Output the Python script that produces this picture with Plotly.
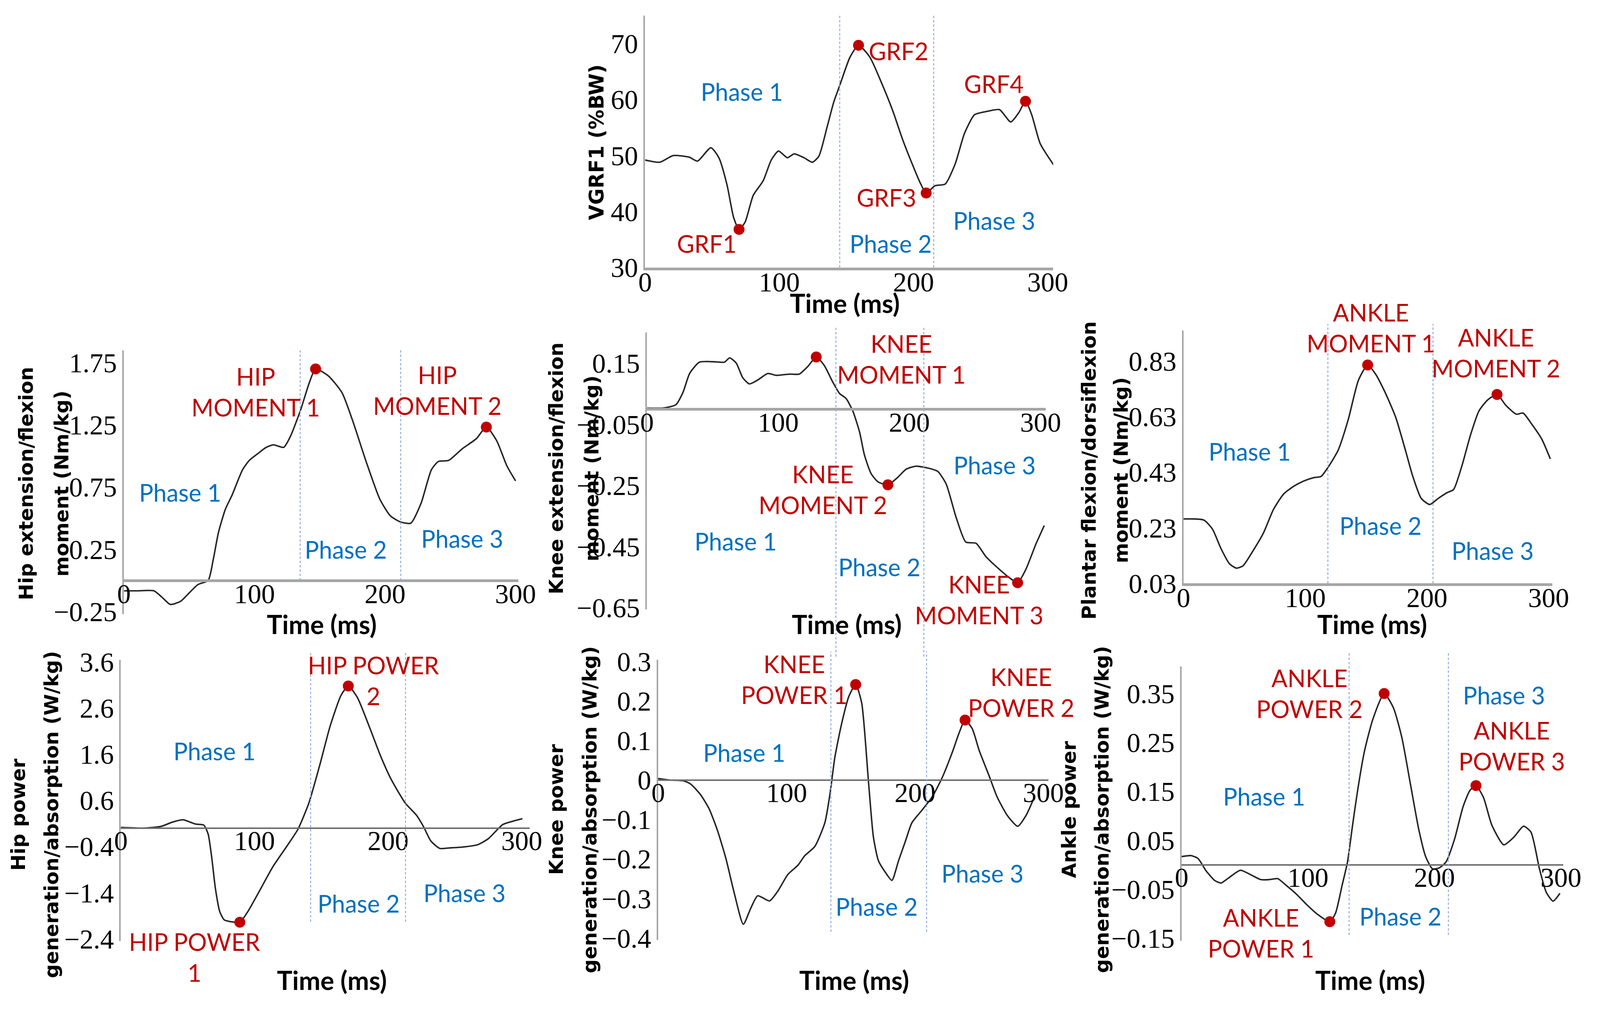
import plotly.graph_objects as go

W, H = 4124, 2593

# ---------------- data ----------------
time_ticks = [0, 100, 200, 300]

vgrf_t = [0, 11, 21, 33, 39, 49, 55, 61, 66, 70, 74.5, 80.6, 88, 94, 99.4, 106, 111, 118.5, 124.6, 129.5, 135.6, 140.5, 145.4, 152.7, 159, 167.4, 177, 184.5, 191.8, 199, 205, 209.4, 216, 223.5, 231, 238, 245.5, 255, 264, 272.4, 278.5, 283.4, 288, 294.4, 305]
vgrf_v = [49.2, 48.8, 50.0, 49.7, 49.0, 51.4, 49.6, 44.8, 38.9, 36.8, 38.1, 42.9, 45.5, 49.2, 50.8, 49.6, 50.3, 49.6, 48.8, 49.9, 55.1, 59.5, 62.8, 67.6, 69.7, 67.6, 62.5, 58.0, 52.9, 48.5, 45.1, 43.3, 44.6, 44.9, 48.5, 54.0, 57.3, 57.9, 58.2, 56.0, 57.7, 59.7, 57.3, 52.1, 48.1]
vgrf_peak_t = [70, 159, 209.4, 283.4]
vgrf_peak_v = [36.8, 69.7, 43.3, 59.7]
vgrf_peak_names = ["GRF1", "GRF2", "GRF3", "GRF4"]
vgrf_phases = [145, 215]
vgrf_yticks = [30, 40, 50, 60, 70]

hipm_t = [0, 9, 23, 29, 35.5, 43.4, 50, 56.6, 64.5, 68.4, 72.4, 77.6, 82.9, 90.8, 96, 102.6, 109, 114.5, 122.4, 127.6, 135.5, 142, 146.8, 156.6, 167, 175, 185.5, 196, 204, 211.8, 219.7, 227.6, 235.5, 240.8, 248.7, 259, 270, 277.6, 285.5, 293.4, 300]
hipm_v = [-0.084, -0.084, -0.084, -0.134, -0.193, -0.168, -0.10, -0.034, 0.0, 0.168, 0.386, 0.57, 0.688, 0.889, 0.965, 1.02, 1.07, 1.09, 1.07, 1.16, 1.376, 1.59, 1.70, 1.644, 1.51, 1.29, 0.956, 0.654, 0.52, 0.47, 0.46, 0.62, 0.889, 0.956, 0.965, 1.057, 1.14, 1.233, 1.124, 0.92, 0.80]
hipm_peak_t = [146.8, 277.6]
hipm_peak_v = [1.70, 1.233]
hipm_peak_names = ["HIP<br>MOMENT 1", "HIP<br>MOMENT 2"]
hipm_phases = [135, 212]
hipm_yticks = [-0.25, 0.25, 0.75, 1.25, 1.75]

kneem_t = [0, 12, 22, 27.4, 32.5, 40, 52.8, 59, 63, 68, 73, 78, 84.5, 92, 98.5, 108.6, 116, 122.6, 129, 135, 141.6, 146.7, 151.8, 156.9, 162, 165.7, 170.8, 176, 183.6, 191, 197.5, 205, 215, 221.6, 228, 235.6, 243, 250.8, 258.4, 268.5, 276, 282.5, 288.8, 296.4, 302.8]
kneem_v = [0.003, 0.003, 0.014, 0.054, 0.116, 0.153, 0.154, 0.153, 0.167, 0.15, 0.102, 0.082, 0.095, 0.116, 0.110, 0.114, 0.114, 0.139, 0.170, 0.143, 0.088, 0.051, 0.034, -0.007, -0.075, -0.150, -0.211, -0.238, -0.248, -0.224, -0.197, -0.187, -0.194, -0.204, -0.245, -0.354, -0.435, -0.439, -0.483, -0.524, -0.551, -0.568, -0.524, -0.442, -0.381]
kneem_peak_t = [129, 183.6, 282.5]
kneem_peak_v = [0.170, -0.248, -0.568]
kneem_peak_names = ["KNEE<br>MOMENT 1", "KNEE<br>MOMENT 2", "KNEE<br>MOMENT 3"]
kneem_phases = [144, 211]
kneem_yticks = [0.15, -0.05, -0.25, -0.45, -0.65]

anklem_t = [0, 16.7, 23.7, 30.7, 37.7, 43.3, 48.8, 57.2, 65.6, 74, 82.3, 90.7, 99, 107.4, 113, 118.6, 127, 135.3, 143.7, 151.3, 157.7, 166, 174.4, 182.8, 188.4, 195.3, 202.3, 209.3, 216.3, 221.9, 228.8, 235.8, 242.8, 249.8, 257.6, 265, 273.5, 279, 286, 294.4, 301.4]
anklem_v = [0.262, 0.258, 0.226, 0.156, 0.101, 0.085, 0.093, 0.148, 0.211, 0.297, 0.352, 0.38, 0.399, 0.411, 0.415, 0.447, 0.509, 0.619, 0.761, 0.816, 0.784, 0.714, 0.627, 0.502, 0.415, 0.336, 0.314, 0.336, 0.356, 0.368, 0.454, 0.564, 0.651, 0.69, 0.71, 0.67, 0.639, 0.643, 0.604, 0.549, 0.478]
anklem_peak_t = [151.3, 257.6]
anklem_peak_v = [0.816, 0.71]
anklem_peak_names = ["ANKLE<br>MOMENT 1", "ANKLE<br>MOMENT 2"]
anklem_phases = [118.6, 205]
anklem_yticks = [0.03, 0.23, 0.43, 0.63, 0.83]

hipp_t = [0, 17, 30, 38.4, 46.5, 52, 56, 62, 65.3, 68, 70.7, 74, 77.4, 82.8, 89, 95, 103, 113.7, 124.5, 132.5, 140.6, 148.7, 156.7, 164.8, 170.2, 177, 186.3, 194.4, 202.4, 213, 221.2, 226.6, 232, 238.7, 245.4, 256, 267, 275, 285.8, 293.8, 300.5]
hipp_v = [0.015, 0.0, 0.036, 0.128, 0.18, 0.128, 0.087, 0.066, -0.128, -0.64, -1.30, -1.81, -1.99, -2.03, -2.04, -1.81, -1.40, -0.84, -0.38, -0.026, 0.536, 1.35, 2.22, 2.88, 3.08, 2.83, 2.17, 1.56, 1.05, 0.536, 0.28, 0.026, -0.28, -0.44, -0.43, -0.41, -0.36, -0.23, 0.077, 0.153, 0.204]
hipp_peak_t = [89, 170.2]
hipp_peak_v = [-2.04, 3.08]
hipp_peak_names = ["HIP POWER<br>1", "HIP POWER<br>2"]
hipp_phases = [142, 213]
hipp_yticks = [3.6, 2.6, 1.6, 0.6, -0.4, -1.4, -2.4]

kneep_t = [0, 9.7, 20, 25.3, 33, 39.7, 46, 52.7, 59.3, 66.3, 72.3, 77.5, 86.7, 93.2, 101, 109, 114, 122, 129.8, 133.7, 137.6, 142.8, 148.6, 153.8, 158.5, 163.7, 167.6, 171.5, 176.8, 182, 187.2, 192.4, 197.6, 205.5, 213.3, 221, 229, 234.2, 239, 244.6, 249.9, 257.7, 264, 272, 280, 286.4, 293]
kneep_v = [0.004, 0.0, -0.002, -0.01, -0.037, -0.073, -0.126, -0.198, -0.287, -0.365, -0.323, -0.293, -0.306, -0.281, -0.239, -0.215, -0.192, -0.168, -0.108, -0.037, 0.058, 0.142, 0.213, 0.242, 0.195, -0.001, -0.144, -0.204, -0.233, -0.254, -0.204, -0.156, -0.108, -0.076, -0.043, 0.005, 0.07, 0.118, 0.152, 0.13, 0.076, 0.011, -0.043, -0.09, -0.117, -0.09, -0.043]
kneep_peak_t = [153.8, 239]
kneep_peak_v = [0.242, 0.152]
kneep_peak_names = ["KNEE<br>POWER 1", "KNEE<br>POWER 2"]
kneep_phases = [134.5, 209]
kneep_yticks = [0.3, 0.2, 0.1, 0, -0.1, -0.2, -0.3, -0.4]

anklep_t = [0, 7.5, 13, 19.6, 26.3, 31.2, 37, 46.5, 54.6, 62.6, 69.4, 76, 82.8, 90.9, 98.9, 107, 117.2, 121.8, 127, 131.2, 135.2, 139.2, 144.6, 151.3, 160.2, 167.5, 174.2, 180.9, 187.6, 193, 198.4, 203.8, 209.1, 215.9, 222.6, 228, 232.8, 238.7, 245.4, 254.8, 262.9, 270.4, 276.3, 283, 288.4, 293.8, 299.2]
anklep_v = [0.017, 0.019, 0.013, -0.013, -0.032, -0.037, -0.027, -0.011, -0.02, -0.03, -0.03, -0.028, -0.042, -0.06, -0.081, -0.10, -0.116, -0.098, -0.041, 0.006, 0.081, 0.152, 0.232, 0.298, 0.35, 0.321, 0.26, 0.166, 0.072, 0.017, -0.008, -0.006, 0.006, 0.053, 0.119, 0.152, 0.162, 0.138, 0.081, 0.041, 0.057, 0.079, 0.067, -0.008, -0.056, -0.074, -0.058]
anklep_peak_t = [117.2, 160.2, 232.8]
anklep_peak_v = [-0.116, 0.35, 0.162]
anklep_peak_names = ["ANKLE<br>POWER 1", "ANKLE<br>POWER 2", "ANKLE<br>POWER 3"]
anklep_phases = [132.5, 211]
anklep_yticks = [0.35, 0.25, 0.15, 0.05, -0.05, -0.15]

phase_names = ["Phase 1", "Phase 2", "Phase 3"]

# ---------------- layout / styling config ----------------
RED = "#C00000"
BLUE = "#0070C0"
PHASE_LINE = "#8FAADC"
AXIS_LIGHT = "#A6A6A6"
AXIS_DARK = "#707070"


# measured pixel positions -> page pixels (small calibration of the photographed page)
def X(p):
    return 1.003 * p - 25


def Y(p):
    return 1.0194 * p - 42.4


panels = [
    dict(t=vgrf_t, v=vgrf_v, pt=vgrf_peak_t, pv=vgrf_peak_v, names=vgrf_peak_names, phases=vgrf_phases,
         yticks=vgrf_yticks, px=(1671, 2729), py=(40, 692), xr=[0, 304], yr=[30, 75], zero_axis=False,
         xline=(AXIS_LIGHT, 7), phase_span=(40, 692),
         name_pos=[(46, 34.3), (189, 68.7), (180, 42.5), (260, 62.8)],
         phase_pos=[(72, 61.4), (183, 34.3), (260, 38.4)],
         ytitle=["VGRF1 (%BW)"], ytitle_x=[1546], ytitle_y=368, ytitle_size=51, xtitle=(2189, 784)),
    dict(t=hipm_t, v=hipm_v, pt=hipm_peak_t, pv=hipm_peak_v, names=hipm_peak_names, phases=hipm_phases,
         yticks=hipm_yticks, px=(320, 1342), py=(906, 1587), xr=[0, 302], yr=[-0.27, 1.85], zero_axis=True,
         xline=(AXIS_LIGHT, 7), phase_span=(906, 1500),
         name_pos=[(100.8, 1.517), (240, 1.53)],
         phase_pos=[(43, 0.708), (170, 0.25), (259, 0.336)],
         ytitle=["Hip extension/flexion", "moment (Nm/kg)"], ytitle_x=[66, 158], ytitle_y=1250, ytitle_size=50,
         xtitle=(833, 1613)),
    dict(t=kneem_t, v=kneem_v, pt=kneem_peak_t, pv=kneem_peak_v, names=kneem_peak_names, phases=kneem_phases,
         yticks=kneem_yticks, px=(1676, 2710), py=(860, 1575), xr=[0, 304], yr=[-0.655, 0.25], zero_axis=True,
         xline=(AXIS_LIGHT, 7), phase_span=(848, 1697),
         name_pos=[(194, 0.163), (134, -0.263), (253, -0.624)],
         phase_pos=[(67.5, -0.432), (177, -0.517), (265, -0.184)],
         ytitle=["Knee extension/flexion", "moment (Nm/kg)"], ytitle_x=[1441, 1533], ytitle_y=1211, ytitle_size=50,
         xtitle=(2194, 1613)),
    dict(t=anklem_t, v=anklem_v, pt=anklem_peak_t, pv=anklem_peak_v, names=anklem_peak_names, phases=anklem_phases,
         yticks=anklem_yticks, px=(3067, 4023), py=(855, 1508), xr=[0, 303], yr=[0.03, 0.94], zero_axis=False,
         xline=(AXIS_LIGHT, 7), phase_span=(838, 1508),
         name_pos=[(154, 0.95), (256.7, 0.86)],
         phase_pos=[(54.4, 0.505), (161.9, 0.238), (254, 0.148)],
         ytitle=["Plantar flexion/dorsiflexion", "moment (Nm/kg)"], ytitle_x=[2822, 2905], ytitle_y=1216,
         ytitle_size=50, xtitle=(3556, 1613)),
    dict(t=hipp_t, v=hipp_v, pt=hipp_peak_t, pv=hipp_peak_v, names=hipp_peak_names, phases=hipp_phases,
         yticks=hipp_yticks, px=(312, 1372), py=(1705, 2432), xr=[0, 306], yr=[-2.45, 3.65], zero_axis=True,
         xline=(AXIS_DARK, 4), phase_span=(1684, 2382),
         name_pos=[(55, -2.8), (189, 3.2)],
         phase_pos=[(70, 1.67), (178, -1.63), (257, -1.40)],
         ytitle=["Hip power", "generation/absorption (W/kg)"], ytitle_x=[46, 132], ytitle_y=2105, ytitle_size=50,
         xtitle=(859, 2532)),
    dict(t=kneep_t, v=kneep_v, pt=kneep_peak_t, pv=kneep_peak_v, names=kneep_peak_names, phases=kneep_phases,
         yticks=kneep_yticks, px=(1705, 2717), py=(1705, 2429), xr=[0, 304], yr=[-0.405, 0.305], zero_axis=True,
         xline=(AXIS_DARK, 4), phase_span=(1684, 2408),
         name_pos=[(106, 0.255), (282.5, 0.2225)],
         phase_pos=[(67, 0.07), (170, -0.32), (252.5, -0.236)],
         ytitle=["Knee power", "generation/absorption (W/kg)"], ytitle_x=[1441, 1528], ytitle_y=2092, ytitle_size=50,
         xtitle=(2213, 2532)),
    dict(t=anklep_t, v=anklep_v, pt=anklep_peak_t, pv=anklep_peak_v, names=anklep_peak_names, phases=anklep_phases,
         yticks=anklep_yticks, px=(3062, 4052), py=(1723, 2431), xr=[0, 302], yr=[-0.155, 0.405], zero_axis=True,
         xline=(AXIS_DARK, 4), phase_span=(1684, 2416),
         name_pos=[(62.6, -0.139), (101, 0.35), (261, 0.2435)],
         phase_pos=[(65.3, 0.14), (173, -0.105), (255, 0.347)],
         ytitle=["Ankle power", "generation/absorption (W/kg)"], ytitle_x=[2771, 2856], ytitle_y=2092,
         ytitle_size=50, xtitle=(3551, 2532)),
]

TICK_FONT = dict(family="Liberation Serif", size=70, color="#000000")
LABEL_FONT = "Lato"
LABEL_SIZE = 61

fig = go.Figure()
annotations = []
shapes = []


def fx(p):
    return X(p) / W


def fy(p):
    return 1 - max(0.0, Y(p)) / H


def fmt(v):
    return ("%g" % v).replace("-", "\u2212")


for i, p in enumerate(panels, start=1):
    xa = "x" if i == 1 else "x%d" % i
    ya = "y" if i == 1 else "y%d" % i
    xkey = "xaxis" if i == 1 else "xaxis%d" % i
    ykey = "yaxis" if i == 1 else "yaxis%d" % i

    xdom = [fx(p["px"][0]), fx(p["px"][1])]
    ydom = [fy(p["py"][1]), fy(p["py"][0])]
    x0, x1 = p["xr"]
    y0, y1 = p["yr"]

    def to_paper(xv, yv, xdom=xdom, ydom=ydom, x0=x0, x1=x1, y0=y0, y1=y1):
        return (xdom[0] + (xv - x0) / (x1 - x0) * (xdom[1] - xdom[0]),
                ydom[0] + (yv - y0) / (y1 - y0) * (ydom[1] - ydom[0]))

    # curve
    fig.add_trace(go.Scatter(x=p["t"], y=p["v"], mode="lines", xaxis=xa, yaxis=ya,
                             line=dict(color="#262626", width=3.8, shape="spline", smoothing=0.6),
                             hoverinfo="skip", showlegend=False))
    # peak markers
    fig.add_trace(go.Scatter(x=p["pt"], y=p["pv"], mode="markers", xaxis=xa, yaxis=ya,
                             marker=dict(color=RED, size=28), cliponaxis=False,
                             hoverinfo="skip", showlegend=False))

    xaxis = dict(domain=xdom, range=p["xr"], tickvals=time_ticks, ticktext=[str(t) for t in time_ticks],
                 showgrid=False, zeroline=False, showline=True, linecolor=p["xline"][0], linewidth=p["xline"][1],
                 ticks="", tickfont=TICK_FONT, ticklabelstandoff=-30, fixedrange=True)
    if p["zero_axis"]:
        frac = (0 - y0) / (y1 - y0)
        xaxis.update(anchor="free", position=ydom[0] + frac * (ydom[1] - ydom[0]))
    else:
        xaxis.update(anchor=ya)
    yaxis = dict(domain=ydom, range=p["yr"], tickvals=p["yticks"], ticktext=[fmt(v) for v in p["yticks"]],
                 showgrid=False, zeroline=False, showline=True, linecolor=AXIS_LIGHT, linewidth=4,
                 ticks="", tickfont=TICK_FONT, anchor=xa, fixedrange=True)
    fig.layout[xkey] = xaxis
    fig.layout[ykey] = yaxis

    # phase boundaries
    for ph in p["phases"]:
        shapes.append(dict(type="line", xref=xa, yref="paper", x0=ph, x1=ph,
                           y0=fy(p["phase_span"][1]), y1=fy(p["phase_span"][0]),
                           line=dict(color=PHASE_LINE, width=2.5, dash="6px,5px")))

    # peak labels
    for name, (lx, ly) in zip(p["names"], p["name_pos"]):
        ax_, ay_ = to_paper(lx, ly)
        annotations.append(dict(text=name, x=ax_, y=ay_, xref="paper", yref="paper", showarrow=False,
                                font=dict(family=LABEL_FONT, size=LABEL_SIZE, color=RED),
                                xanchor="center", yanchor="middle", align="center"))
    # phase labels
    for name, (lx, ly) in zip(phase_names, p["phase_pos"]):
        ax_, ay_ = to_paper(lx, ly)
        annotations.append(dict(text=name, x=ax_, y=ay_, xref="paper", yref="paper", showarrow=False,
                                font=dict(family=LABEL_FONT, size=LABEL_SIZE, color=BLUE),
                                xanchor="center", yanchor="middle"))
    # y titles
    for line, tx in zip(p["ytitle"], p["ytitle_x"]):
        annotations.append(dict(text="<b>%s</b>" % line, x=fx(tx), y=fy(p["ytitle_y"]),
                                xref="paper", yref="paper", showarrow=False, textangle=-90,
                                font=dict(family="DejaVu Sans", size=p["ytitle_size"], color="#000000"),
                                xanchor="center", yanchor="middle"))
    # x title
    annotations.append(dict(text="<b>Time (ms)</b>", x=fx(p["xtitle"][0]), y=fy(p["xtitle"][1]),
                            xref="paper", yref="paper", showarrow=False,
                            font=dict(family="Lato", size=66, color="#000000"),
                            xanchor="center", yanchor="middle"))

fig.update_layout(width=W, height=H, margin=dict(l=0, r=0, t=0, b=0),
                  paper_bgcolor="white", plot_bgcolor="white",
                  annotations=annotations, shapes=shapes, showlegend=False)

fig.write_html("out.html")
